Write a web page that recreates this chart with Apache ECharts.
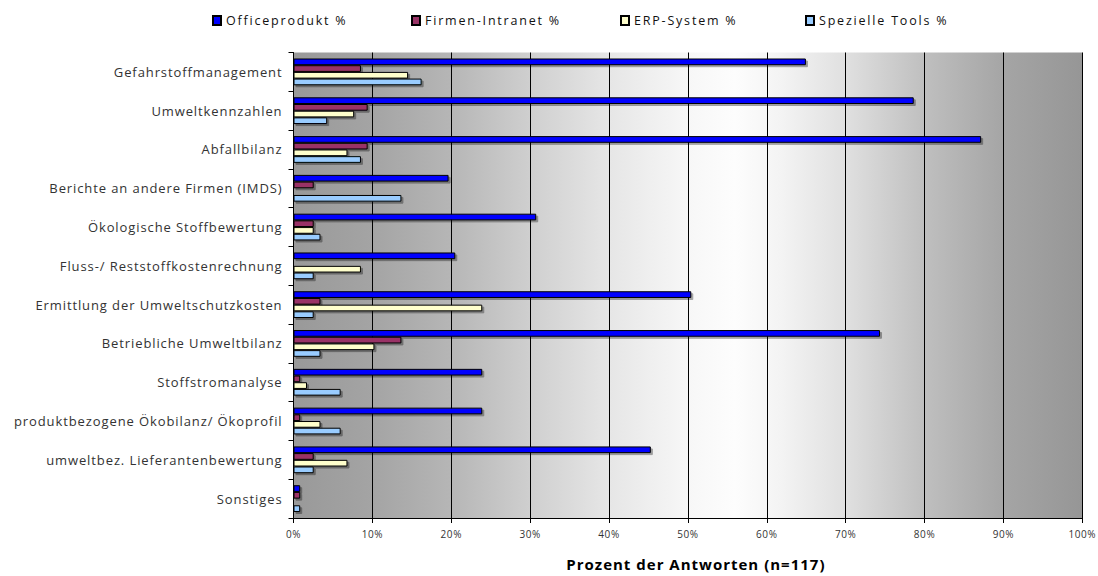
<!DOCTYPE html>
<html><head><meta charset="utf-8">
<script src="https://cdn.jsdelivr.net/npm/echarts@6/dist/echarts.min.js"></script>
<style>html,body{margin:0;padding:0;background:#fff;overflow:hidden}#c{width:1098px;height:576px}</style>
</head><body><div id="c"></div>
<script>
const categories = ["Gefahrstoffmanagement","Umweltkennzahlen","Abfallbilanz","Berichte an andere Firmen (IMDS)","Ökologische Stoffbewertung","Fluss-/ Reststoffkostenrechnung","Ermittlung der Umweltschutzkosten","Betriebliche Umweltbilanz","Stoffstromanalyse","produktbezogene Ökobilanz/ Ökoprofil","umweltbez. Lieferantenbewertung","Sonstiges"];
const seriesNames = ["Officeprodukt %","Firmen-Intranet %","ERP-System %","Spezielle Tools %"];
const office = [64.96,78.63,87.18,19.66,30.77,20.51,50.43,74.36,23.93,23.93,45.30,0.85];
const intranet = [8.55,9.40,9.40,2.56,2.56,0,3.42,13.68,0.85,0.85,2.56,0.85];
const erp = [14.53,7.69,6.84,0,2.56,8.55,23.93,10.26,1.71,3.42,6.84,0];
const tools = [16.24,4.27,8.55,13.68,3.42,2.56,2.56,3.42,5.98,5.98,2.56,0.85];
const xTicks = [0,10,20,30,40,50,60,70,80,90,100];
const xName = 'Prozent der Antworten (n=117)';

const colors = ["#0000ff","#993366","#ffffcc","#99ccff"];
const values = [office,intranet,erp,tools];
const FONT = "Open Sans";

const chart = echarts.init(document.getElementById('c'), null, {renderer:'svg'});
const legendLefts = [207, 406, 615, 800];
chart.setOption({
  animation:false,
  backgroundColor:'#ffffff',
  textStyle:{fontFamily:FONT},
  legend: seriesNames.map((n,i)=>({
    data:[n], top:9, left:legendLefts[i], icon:'rect', itemWidth:8, itemHeight:9, itemGap:4,
    textStyle:{fontFamily:FONT,fontSize:12.5,color:'#111'}
  })),
  grid:{left:293.5,right:11.5,top:52.5,bottom:55,show:true,borderWidth:0,
    backgroundColor:new echarts.graphic.LinearGradient(0,0,1,0,[
      {offset:0,color:'#999999'},{offset:0.1,color:'#a4a4a4'},{offset:0.2,color:'#b6b6b6'},
      {offset:0.3,color:'#cfcfcf'},{offset:0.4,color:'#e6e6e6'},{offset:0.5,color:'#f7f7f7'},
      {offset:0.56,color:'#fdfdfd'},{offset:0.62,color:'#f3f3f3'},{offset:0.7,color:'#e0e0e0'},
      {offset:0.8,color:'#bfbfbf'},{offset:0.9,color:'#a5a5a5'},{offset:1,color:'#969696'}])},
  xAxis:{type:'value',min:xTicks[0],max:xTicks[xTicks.length-1],interval:xTicks[1]-xTicks[0],
    axisLine:{show:true,lineStyle:{color:'#000',width:1}},
    axisTick:{show:true,length:5,lineStyle:{color:'#000'}},
    splitLine:{show:true,lineStyle:{color:'#000',width:1}},
    axisLabel:{formatter:'{value}%',fontFamily:FONT,fontSize:10,color:'#333',margin:11},
    name:xName,nameLocation:'middle',nameGap:38,
    nameTextStyle:{fontFamily:FONT,fontSize:15,fontWeight:'bold',color:'#000',padding:[0,0,0,16]}},
  yAxis:{type:'category',data:categories,inverse:true,
    axisLine:{show:true,lineStyle:{color:'#000',width:1}},
    axisTick:{show:true,length:5,lineStyle:{color:'#000'}},
    axisLabel:{fontFamily:FONT,fontSize:13,color:'#333',margin:11}},
  series: values.map((v,i)=>({
    name:seriesNames[i],type:'bar',data:v,barGap:'0%',barCategoryGap:'31%',
    itemStyle:{color:colors[i],borderColor:'#000',borderWidth:1,
      shadowColor:'rgba(0,0,0,0.35)',shadowOffsetX:2,shadowOffsetY:2,shadowBlur:0}
  }))
});
function space(){
  document.querySelectorAll('#c svg text').forEach(t=>{
    const s = t.textContent;
    let ls = 0.9;
    if (seriesNames.includes(s)) ls = 1.8;
    else if (s === xName) ls = 1;
    else if (/%$/.test(s)) ls = 0.6;
    t.style.letterSpacing = ls + 'px';
  });
}
space();
chart.on('finished', space);
</script></body></html>
